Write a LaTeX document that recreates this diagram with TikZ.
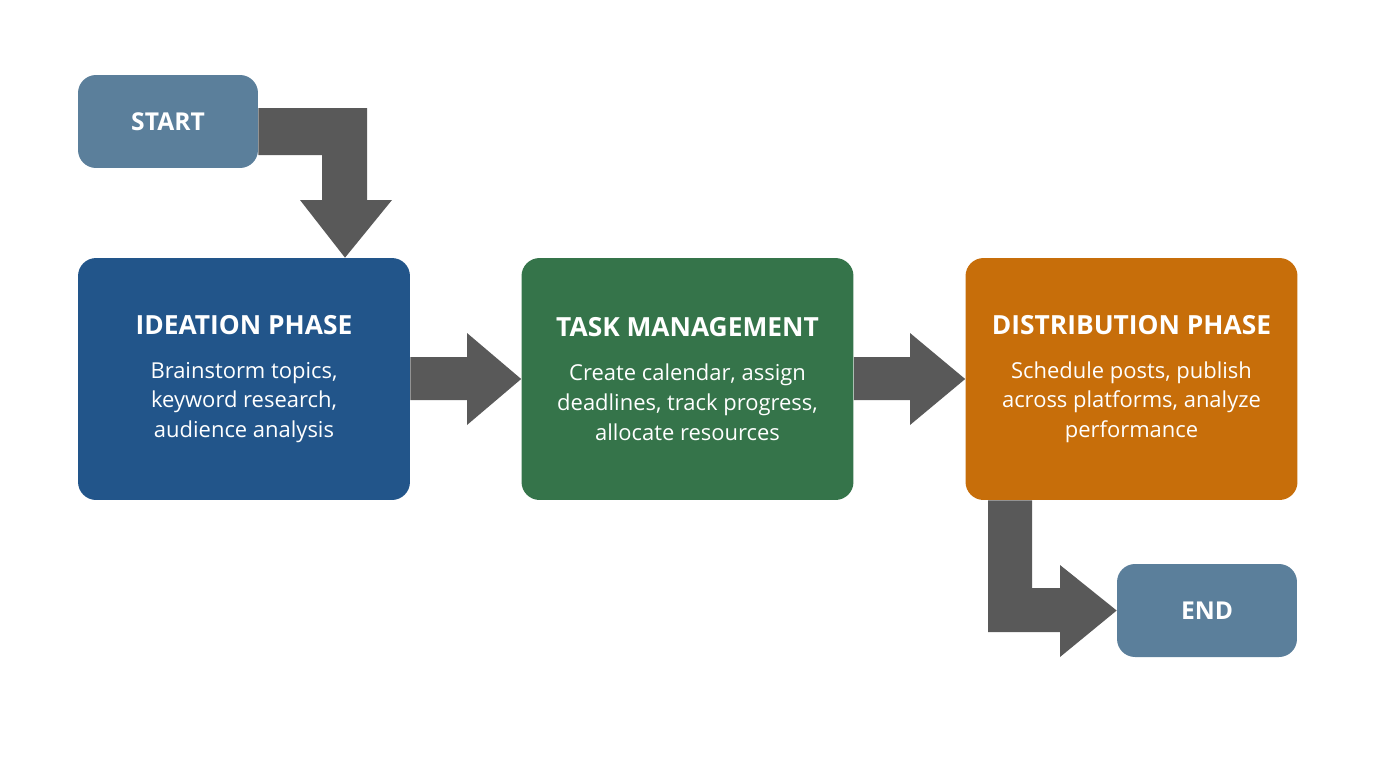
\documentclass[tikz,border=0pt]{standalone}
\usepackage{fontspec}
\setmainfont{Open Sans}
\usetikzlibrary{positioning}
\definecolor{startblue}{HTML}{5B7F9B}
\definecolor{ideablue}{HTML}{22558A}
\definecolor{taskgreen}{HTML}{35744A}
\definecolor{distorange}{HTML}{C76E0A}
\definecolor{arrowgray}{HTML}{595959}
\begin{document}
\begin{tikzpicture}[x=0.02cm,y=-0.02cm]
  \tikzstyle{term} = [fill=startblue, rounded corners=0.36cm, minimum width=3.6cm, minimum height=1.86cm, text=white, font=\fontsize{14}{17}\selectfont\bfseries]
  \tikzstyle{phase} = [rounded corners=0.36cm, minimum width=6.64cm, minimum height=4.84cm, text=white, align=center, font=\fontsize{12.5}{17}\selectfont]
  \tikzstyle{flow} = [fill=arrowgray]
  \newcommand{\ttl}[1]{{\fontsize{15}{17}\selectfont\bfseries #1}\\[8pt]}
  \useasboundingbox (0,0) rectangle (1376,768);

  \node[term] (start) at (168,121.5) {START};
  \node[phase, fill=ideablue] (idea) at (244,379) {\ttl{IDEATION PHASE}Brainstorm topics,\\keyword research,\\audience analysis};
  \node[phase, fill=taskgreen] (task) at (687.5,379) {\ttl{TASK MANAGEMENT}Create calendar, assign\\deadlines, track progress,\\allocate resources};
  \node[phase, fill=distorange] (dist) at (1131.5,379) {\ttl{DISTRIBUTION PHASE}Schedule posts, publish\\across platforms, analyze\\performance};
  \node[term] (end) at (1207,610.5) {END};

  % block arrows
  \fill[flow] (start.east |- 0,108) -- (367,108) -- (367,200) -- (392,200) -- (idea.north -| 345,0)
    -- (300,200) -- (322,200) -- (322,155) -- (start.east |- 0,155) -- cycle;
  \fill[flow] (idea.east |- 0,357) -- (467,357) -- (467,333) -- (task.west) -- (467,425) -- (467,400) -- (idea.east |- 0,400) -- cycle;
  \fill[flow] (task.east |- 0,357) -- (910,357) -- (910,333) -- (dist.west) -- (910,425) -- (910,400) -- (task.east |- 0,400) -- cycle;
  \fill[flow] (988,0 |- dist.south) -- (1032,0 |- dist.south) -- (1032,588) -- (1060,588) -- (1060,565)
    -- (end.west) -- (1060,657) -- (1060,632) -- (988,632) -- cycle;
\end{tikzpicture}
\end{document}
